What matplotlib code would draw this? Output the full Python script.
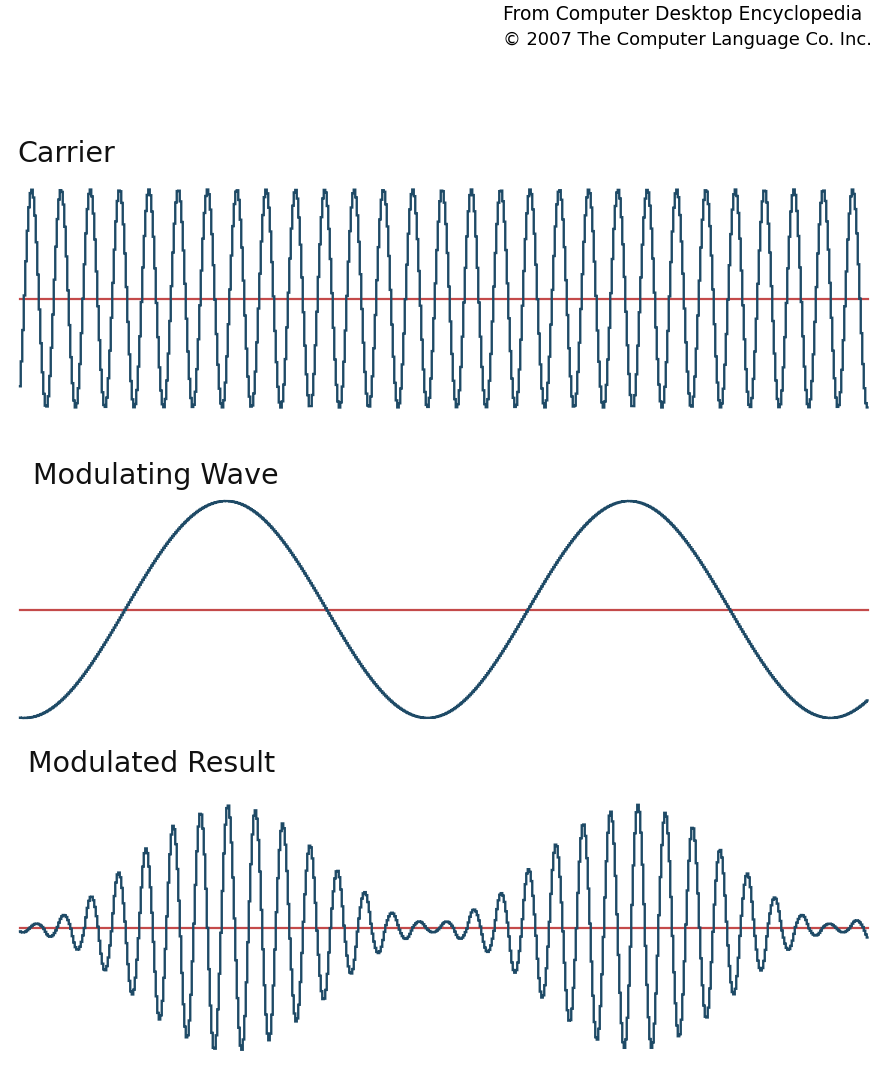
import numpy as np
import matplotlib
matplotlib.use('Agg')
from matplotlib import pyplot as plt

# ============= values =============================================
# horizontal positions are in screen samples counted from the left end of the traces
trace_length = 848
sample_step = 1.5  # the original was a small bitmap blown up, hence the staircase

# carrier: constant amplitude sine
carrier_period = 29.32
carrier_amp = 1.0
carrier_first_peak = 11.7

# modulating wave: slow cosine, two cycles across
modulating_period = 403.0
modulating_amp = 0.995
modulating_first_peak = 206.0

# modulated result: signed peak value of every half cycle, left to right
result_first_peak = 3.0
result_half_period = 13.667
result_peaks = [-0.04, 0.04, -0.08, 0.12, -0.20, 0.29, -0.39, 0.51, -0.61, 0.73,
                -0.84, 0.94, -1.01, 1.06, -1.12, 1.13, -1.12, 1.08, -1.03, 0.96,
                -0.86, 0.76, -0.66, 0.53, -0.42, 0.33, -0.23, 0.14, -0.10, 0.06,
                -0.04, 0.06, -0.10, 0.17, -0.22, 0.32, -0.41, 0.54, -0.64, 0.77,
                -0.86, 0.96, -1.03, 1.07, -1.10, 1.13, -1.10, 1.06, -1.00, 0.93,
                -0.83, 0.72, -0.61, 0.50, -0.39, 0.28, -0.20, 0.12, -0.07, 0.04,
                -0.04, 0.07, -0.11]

titles = ['Carrier', 'Modulating Wave', 'Modulated Result']
credit_lines = ['From Computer Desktop Encyclopedia',
                '\u00a9 2007 The Computer Language Co. Inc.']

# ============= build the traces ========================
t = np.arange(0, trace_length + 0.01, sample_step, dtype=float)

carrier = carrier_amp * np.cos(2 * np.pi * (t - carrier_first_peak) / carrier_period)
modulating = modulating_amp * np.cos(2 * np.pi * (t - modulating_first_peak) / modulating_period)

peaks = np.array(result_peaks)
k = np.clip(np.round((t - result_first_peak) / result_half_period).astype(int), 0, len(peaks) - 1)
peak_t = result_first_peak + k * result_half_period
result = peaks[k] * np.cos(np.pi * (t - peak_t) / result_half_period)

# ============= figure ========================
W, H = 885, 1067
fig = plt.figure(figsize=(W / 100, H / 100), dpi=100)
fig.patch.set_facecolor('white')

wave_color = '#1e4a66'
zero_color = '#c44a4a'
px_per_unit = 109.0
band_px = 262

# (series, centre line y in px, title left x, title baseline y)
panels = [(carrier, 298.5, 17, 161.5),
          (modulating, 609.5, 33, 483.5),
          (result, 928.0, 28, 771.5)]

for (series, centre_y, tx, ty), title in zip(panels, titles):
    ax = fig.add_axes([0, 1 - (centre_y + band_px / 2) / H, 1, band_px / H])
    ax.set_xlim(-20, W - 20)
    half = band_px / 2 / px_per_unit
    ax.set_ylim(-half, half)
    ax.axis('off')
    ax.plot([t[0], t[-1]], [0, 0], color=zero_color, lw=1.6, zorder=1, clip_on=False)
    ax.plot(t, series, color=wave_color, lw=1.7, drawstyle='steps-mid',
            solid_joinstyle='miter', zorder=2, clip_on=False)
    fig.text(tx / W, 1 - ty / H, title, fontsize=20.5, color='#111111',
             family='DejaVu Sans', ha='left', va='baseline')

# credit text in the top right corner
fig.text(503 / W, 1 - 20 / H, credit_lines[0], fontsize=13.5, color='black',
         family='DejaVu Sans', ha='left', va='baseline')
fig.text(503 / W, 1 - 45 / H, credit_lines[1], fontsize=12.9, color='black',
         family='DejaVu Sans', ha='left', va='baseline')

plt.savefig('out.png', dpi=100, facecolor='white')
plt.close()
